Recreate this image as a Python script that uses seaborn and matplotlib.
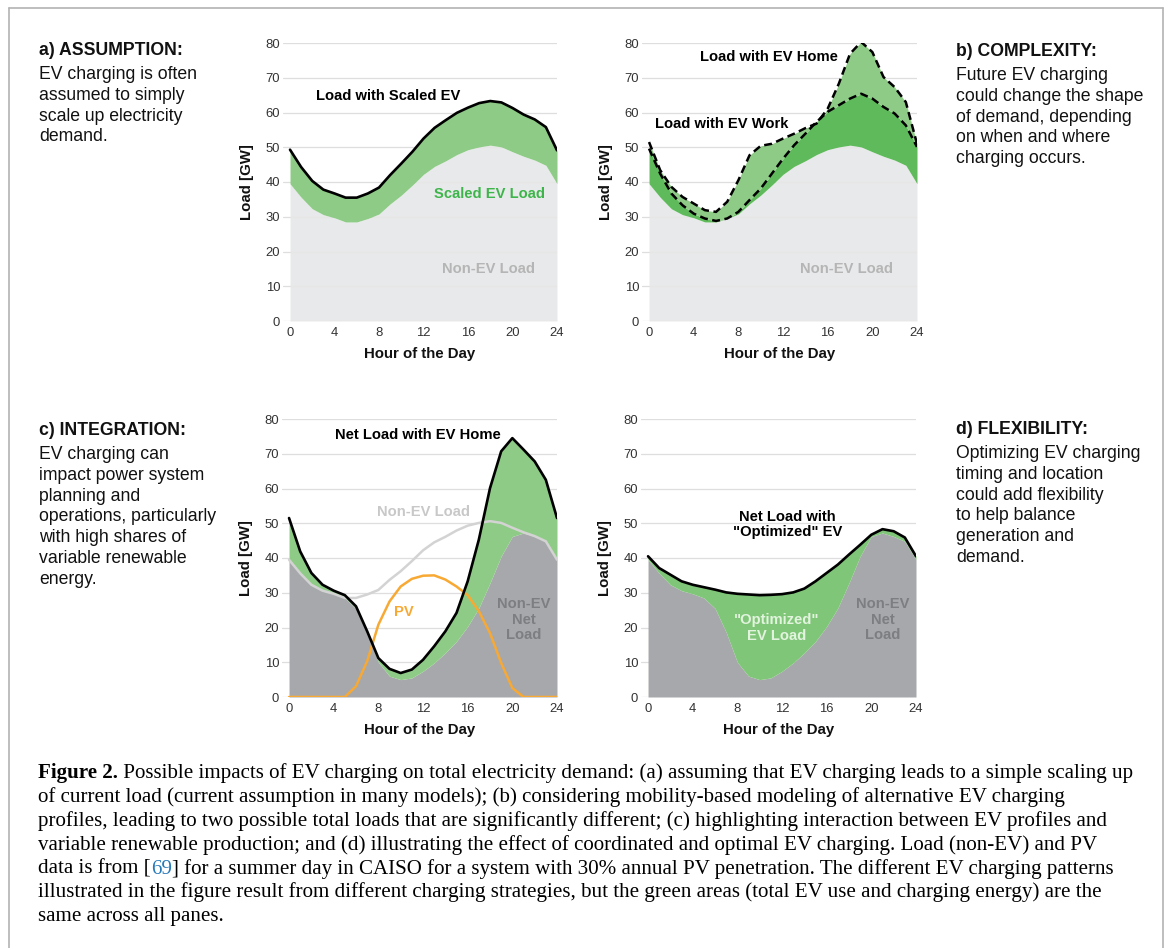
import matplotlib
matplotlib.use("Agg")
import matplotlib.pyplot as plt
from matplotlib.lines import Line2D
import numpy as np
import pandas as pd
import seaborn as sns

# ---------------- data ----------------
hours = list(range(25))
non_ev = [39.5, 35.6, 32.3, 30.6, 29.7, 28.5, 28.5, 29.5, 30.8, 33.7, 36.2, 39.1, 42.2,
          44.5, 46.1, 47.9, 49.3, 50.1, 50.6, 50.1, 48.7, 47.4, 46.3, 44.8, 39.5]
scaled_ev = [49.3, 44.3, 40.3, 37.8, 36.7, 35.5, 35.5, 36.7, 38.4, 42.0, 45.3, 48.7, 52.5,
             55.6, 57.8, 59.9, 61.4, 62.7, 63.3, 62.9, 61.3, 59.4, 58.0, 55.8, 49.1]
ev_home = [51.5, 43.4, 38.6, 35.7, 33.8, 31.9, 31.4, 34.3, 40.5, 47.7, 50.4, 51.0, 52.5,
           53.9, 55.5, 56.8, 61.1, 68.3, 76.9, 80.3, 77.4, 70.2, 67.3, 63.0, 51.0]
ev_work = [49.6, 42.4, 36.7, 33.3, 30.9, 29.5, 28.8, 29.5, 31.4, 34.8, 38.1, 42.4, 46.7,
           50.6, 53.9, 57.3, 60.2, 62.1, 64.0, 65.4, 64.0, 61.6, 59.7, 56.3, 50.1]
pv = [0, 0, 0, 0, 0, 0, 3.1, 10.3, 20.8, 27.5, 31.8, 34.0, 34.9,
      35.0, 33.8, 31.8, 29.3, 24.7, 18.4, 9.8, 2.6, 0, 0, 0, 0]
net_load = [39.5, 35.6, 32.3, 30.6, 29.7, 28.5, 25.5, 18.6, 10.0, 6.0, 5.0, 5.5, 7.4,
            9.8, 12.7, 16.0, 20.3, 25.6, 32.8, 40.5, 46.2, 47.2, 46.2, 44.8, 39.5]
net_ev_home = [51.5, 41.9, 35.7, 32.3, 30.6, 29.3, 26.1, 18.9, 11.2, 8.1, 6.9, 7.9, 10.7,
               14.6, 18.9, 24.2, 33.3, 45.3, 60.1, 70.7, 74.5, 71.2, 67.8, 62.5, 51.5]
net_opt = [40.5, 37.1, 35.2, 33.3, 32.3, 31.6, 30.9, 30.1, 29.7, 29.5, 29.3, 29.4, 29.6,
           30.1, 31.2, 33.3, 35.7, 38.1, 41.0, 43.8, 46.7, 48.3, 47.7, 45.9, 40.5]

x_ticks = [0, 4, 8, 12, 16, 20, 24]
y_ticks = [0, 10, 20, 30, 40, 50, 60, 70, 80]

df = pd.DataFrame({"hour": hours, "non_ev": non_ev, "scaled_ev": scaled_ev,
                   "ev_home": ev_home, "ev_work": ev_work, "pv": pv,
                   "net_load": net_load, "net_ev_home": net_ev_home, "net_opt": net_opt})

# ---------------- style ----------------
sns.set_theme(style="white")
plt.rcParams["font.family"] = ["Liberation Sans", "DejaVu Sans"]

W, H = 1171, 948
fig = plt.figure(figsize=(W / 100, H / 100), dpi=100)

LIGHT_GRAY = "#e6e7e8"
DARK_GRAY = "#a7a8ab"
GREEN = "#8ecb86"
GREEN_DARK = "#5fba5b"
GREEN_D = "#80c679"
ORANGE = "#f7a934"
LBL_FS = 10.6

def px_axes(left, right, top, bottom):
    return fig.add_axes([left / W, 1 - bottom / H, (right - left) / W, (bottom - top) / H])

def style_ax(ax):
    ax.set_xlim(-0.63, 24)
    ax.set_ylim(0, 80)
    ax.set_xticks(x_ticks)
    ax.set_yticks(y_ticks)
    ax.set_xticklabels([str(v) for v in x_ticks])
    ax.set_yticklabels([str(v) for v in y_ticks])
    ax.tick_params(axis="both", length=0, labelsize=9.4, labelcolor="#333333")
    ax.tick_params(axis="x", pad=4)
    ax.tick_params(axis="y", pad=2)
    for s in ax.spines.values():
        s.set_visible(False)
    ax.yaxis.grid(True, color="#dedede", lw=0.9)
    ax.xaxis.grid(False)
    ax.set_axisbelow(True)
    ax.set_xlabel("Hour of the Day", fontsize=10.8, fontweight="bold", labelpad=6, color="#111111")
    ax.set_ylabel("Load [GW]", fontsize=10.8, fontweight="bold", labelpad=8, color="#111111")
    ax.set_facecolor("none")

axA = px_axes(283, 557, 43, 321)
axB = px_axes(642, 917, 43, 321)
axC = px_axes(282, 557, 419, 697)
axD = px_axes(641, 916, 419, 697)

# ---- panel a ----
ax = axA
ax.fill_between(df["hour"], 0, df["non_ev"], color=LIGHT_GRAY, lw=0, alpha=0.9, zorder=1)
ax.fill_between(df["hour"], df["non_ev"], df["scaled_ev"], color=GREEN, lw=0, zorder=2)
sns.lineplot(data=df, x="hour", y="scaled_ev", ax=ax, color="black", lw=1.9, zorder=5)
ax.text(8.8, 64.7, "Load with Scaled EV", ha="center", va="center", fontsize=LBL_FS, fontweight="bold", color="black")
ax.text(17.9, 36.5, "Scaled EV Load", ha="center", va="center", fontsize=LBL_FS, fontweight="bold", color="#3db54a")
ax.text(17.8, 15, "Non-EV Load", ha="center", va="center", fontsize=LBL_FS, fontweight="bold", color="#b5b5b5")
style_ax(ax)

# ---- panel b ----
ax = axB
ax.fill_between(df["hour"], 0, df["non_ev"], color=LIGHT_GRAY, lw=0, alpha=0.9, zorder=1)
ax.fill_between(df["hour"], df["non_ev"], df["ev_work"], color=GREEN_DARK, lw=0, zorder=2)
ax.fill_between(df["hour"], df["ev_work"], df["ev_home"], color=GREEN, lw=0, zorder=2)
sns.lineplot(data=df, x="hour", y="ev_home", ax=ax, color="black", lw=1.8, zorder=5)
sns.lineplot(data=df, x="hour", y="ev_work", ax=ax, color="black", lw=1.8, zorder=5)
for ln in ax.get_lines():
    ln.set_dashes((3.2, 1.8))
ax.text(10.7, 76, "Load with EV Home", ha="center", va="center", fontsize=LBL_FS, fontweight="bold", color="black")
ax.text(6.5, 56.7, "Load with EV Work", ha="center", va="center", fontsize=LBL_FS, fontweight="bold", color="black")
ax.text(17.7, 15, "Non-EV Load", ha="center", va="center", fontsize=LBL_FS, fontweight="bold", color="#b5b5b5")
style_ax(ax)

# ---- panel c ----
ax = axC
ax.fill_between(df["hour"], 0, df["net_load"], color=DARK_GRAY, lw=0, zorder=1)
ax.fill_between(df["hour"], df["net_load"], df["net_ev_home"], color=GREEN, lw=0, zorder=2)
sns.lineplot(data=df, x="hour", y="non_ev", ax=ax, color="#d3d3d3", lw=1.8, zorder=4)
sns.lineplot(data=df, x="hour", y="pv", ax=ax, color=ORANGE, lw=1.8, zorder=5)
sns.lineplot(data=df, x="hour", y="net_ev_home", ax=ax, color="black", lw=1.9, zorder=6)
ax.text(11.5, 75.5, "Net Load with EV Home", ha="center", va="center", fontsize=LBL_FS, fontweight="bold", color="black")
ax.text(12.0, 53.2, "Non-EV Load", ha="center", va="center", fontsize=LBL_FS, fontweight="bold", color="#c8c8c8")
ax.text(10.3, 24.5, "PV", ha="center", va="center", fontsize=LBL_FS, fontweight="bold", color=ORANGE)
ax.text(21.0, 22.3, "Non-EV\nNet\nLoad", ha="center", va="center", fontsize=LBL_FS, fontweight="bold",
        color="#7d7e81", linespacing=1.12)
style_ax(ax)

# ---- panel d ----
ax = axD
ax.fill_between(df["hour"], 0, df["net_load"], color=DARK_GRAY, lw=0, zorder=1)
ax.fill_between(df["hour"], df["net_load"], df["net_opt"], color=GREEN_D, lw=0, zorder=2)
sns.lineplot(data=df, x="hour", y="net_opt", ax=ax, color="black", lw=1.9, zorder=6)
ax.text(12.5, 49.6, "Net Load with\n\"Optimized\" EV", ha="center", va="center", fontsize=LBL_FS,
        fontweight="bold", color="black", linespacing=1.12)
ax.text(11.5, 19.9, "\"Optimized\"\nEV Load", ha="center", va="center", fontsize=LBL_FS,
        fontweight="bold", color="#e2f3de", linespacing=1.12)
ax.text(21.0, 22.3, "Non-EV\nNet\nLoad", ha="center", va="center", fontsize=LBL_FS, fontweight="bold",
        color="#7d7e81", linespacing=1.12)
style_ax(ax)

# ---------------- side texts ----------------
SIDE_FS = 12.7

def side_block(x, y0, heading, lines):
    fig.text(x / W, 1 - (y0 + 6) / H, heading, fontsize=SIDE_FS, fontweight="bold",
             color="#111111", ha="left", va="baseline")
    y = y0 + 24
    for ln in lines:
        fig.text(x / W, 1 - (y + 6) / H, ln, fontsize=SIDE_FS, color="#111111", ha="left", va="baseline")
        y += 20.8

side_block(39, 49, "a) ASSUMPTION:", ["EV charging is often", "assumed to simply",
                                       "scale up electricity", "demand."])
side_block(956, 50, "b) COMPLEXITY:", ["Future EV charging", "could change the shape",
                                        "of demand, depending", "on when and where",
                                        "charging occurs."])
side_block(39, 429, "c) INTEGRATION:", ["EV charging can", "impact power system",
                                         "planning and", "operations, particularly",
                                         "with high shares of", "variable renewable",
                                         "energy."])
side_block(956, 428, "d) FLEXIBILITY:", ["Optimizing EV charging", "timing and location",
                                          "could add flexibility", "to help balance",
                                          "generation and", "demand."])

# ---------------- caption ----------------
caption_lines = [
    [("Figure 2.", "bold", "black"),
     (" Possible impacts of EV charging on total electricity demand: (a) assuming that EV charging leads to a simple scaling up", "normal", "black")],
    [("of current load (current assumption in many models); (b) considering mobility-based modeling of alternative EV charging", "normal", "black")],
    [("profiles, leading to two possible total loads that are significantly different; (c) highlighting interaction between EV profiles and", "normal", "black")],
    [("variable renewable production; and (d) illustrating the effect of coordinated and optimal EV charging. Load (non-EV) and PV", "normal", "black")],
    [("data is from [", "normal", "black"), ("69", "normal", "#2a7ab8"),
     ("] for a summer day in CAISO for a system with 30% annual PV penetration. The different EV charging patterns", "normal", "black")],
    [("illustrated in the figure result from different charging strategies, but the green areas (total EV use and charging energy) are the", "normal", "black")],
    [("same across all panes.", "normal", "black")],
]
serif = ["Liberation Serif", "DejaVu Serif"]
renderer = fig.canvas.get_renderer()

probe = fig.text(0, 0, "".join(p[0] for p in caption_lines[0]), fontsize=10, family=serif)
wpx = probe.get_window_extent(renderer).width
probe.remove()
cap_fs = 10 * 1090 / wpx

y = 773
for line in caption_lines:
    xpx = 38
    for txt, weight, col in line:
        t = fig.text(xpx / W, 1 - (y + 5) / H, txt, fontsize=cap_fs, family=serif,
                     fontweight=weight, color=col, ha="left", va="baseline")
        bb = t.get_window_extent(renderer)
        xpx += bb.width
    y += 23.9

# ---------------- border ----------------
bc = "#b3b3b3"
fig.add_artist(Line2D([9 / W, 9 / W], [0, 1 - 8 / H], transform=fig.transFigure, color=bc, lw=1.2))
fig.add_artist(Line2D([9 / W, 1163 / W], [1 - 8 / H, 1 - 8 / H], transform=fig.transFigure, color=bc, lw=1.2))
fig.add_artist(Line2D([1163 / W, 1163 / W], [0, 1 - 8 / H], transform=fig.transFigure, color=bc, lw=1.2))

fig.savefig("out.png", dpi=100, facecolor="white")
